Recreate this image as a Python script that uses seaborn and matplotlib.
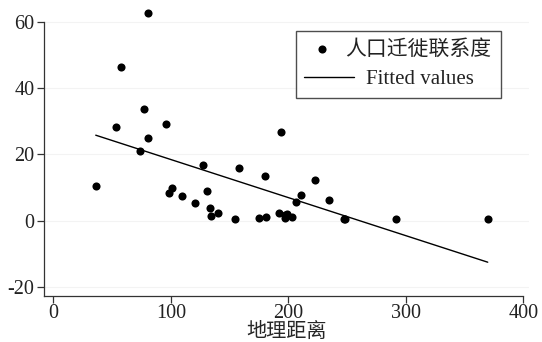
import numpy as np
import pandas as pd
import matplotlib
matplotlib.use("Agg")
import matplotlib.pyplot as plt
import seaborn as sns

# Data
distance = [36.1, 53.1, 57.9, 80.9, 77.5, 80.3, 73.8, 95.7, 98.7, 101.0,
            109.5, 120.3, 127.4, 130.5, 133.4, 134.0, 140.2, 154.6, 158.3, 175.3,
            180.7, 180.4, 191.8, 193.8, 197.2, 198.9, 202.9, 197.5, 206.6, 210.6,
            222.8, 234.6, 247.2, 248.2, 291.9, 369.7]
migration = [10.4, 28.4, 46.5, 62.7, 33.8, 25.0, 21.0, 29.3, 8.4, 9.8,
             7.5, 5.3, 16.9, 9.1, 3.7, 1.4, 2.2, 0.5, 16.0, 0.8,
             1.1, 13.6, 2.2, 26.7, 1.7, 1.9, 1.1, 0.7, 5.6, 7.7,
             12.4, 6.3, 0.6, 0.6, 0.6, 0.6]
fit_x = [36.1, 369.7]
fit_y = [25.8, -12.5]
xticks = [0, 100, 200, 300, 400]
yticks = [-20, 0, 20, 40, 60]
xlabel = "地理距离"
legend_points = "人口迁徙联系度"
legend_line = "Fitted values"

df = pd.DataFrame({"x": distance, "y": migration})
fit_df = pd.DataFrame({"x": fit_x, "y": fit_y})

sns.set_theme(style="white")
plt.rcParams["font.family"] = ["Liberation Serif", "Noto Sans CJK SC"]

fig = plt.figure(figsize=(5.42, 3.42), dpi=100)
ax = fig.add_axes([0.0817, 0.1354, 0.8947, 0.8494])

for yv in yticks:
    ax.axhline(yv, color="#f3f3f3", lw=0.8, zorder=0)

sns.scatterplot(data=df, x="x", y="y", ax=ax, color="black", s=34,
                edgecolor="black", linewidth=0, label=legend_points, zorder=3)
sns.lineplot(data=fit_df, x="x", y="y", ax=ax, color="black", lw=1.0,
             label=legend_line, zorder=2)

ax.set_xlim(-7.7, 405)
ax.set_ylim(-22.6, 65)
ax.set_xticks(xticks)
ax.set_yticks(yticks)
ax.set_xticklabels([str(v) for v in xticks])
ax.set_yticklabels([str(v) for v in yticks])
ax.set_xlabel(xlabel, fontsize=14.5, labelpad=-0.5)
ax.set_ylabel("")

for s in ["top", "right"]:
    ax.spines[s].set_visible(False)
for s in ["left", "bottom"]:
    ax.spines[s].set_color("#333333")
    ax.spines[s].set_linewidth(0.9)
ax.spines["left"].set_bounds(-22.6, 60)
ax.spines["bottom"].set_bounds(-7.7, 400)

ax.tick_params(axis="both", direction="out", length=5, width=0.9,
               color="#333333", labelsize=14.5, labelcolor="#222222", pad=2,
               left=True, bottom=True)
ax.tick_params(axis="x", pad=1.2)

leg = ax.legend(loc="upper right", bbox_to_anchor=(0.941, 0.912),
                borderaxespad=0, fontsize=15, frameon=True, fancybox=False,
                edgecolor="#222222", handlelength=1.65, handletextpad=0.3,
                labelspacing=0.5, borderpad=0.43)
leg.get_frame().set_linewidth(1.0)
for t in leg.get_texts():
    t.set_color("#222222")
# Stata-style key: line key is longer and its label starts further right
pt2px = fig.dpi / 72.0
for ln in leg.get_lines():
    xd = np.asarray(ln.get_xdata(), dtype=float)
    if len(xd) >= 2 and ln.get_linestyle() not in ("None", "none", ""):
        ln.set_xdata(np.linspace(xd.min() - 1.0 / pt2px,
                                 xd.max() + 14.5 / pt2px, len(xd)))
leg.get_texts()[1].set_x(20)

fig.savefig("out.png", dpi=100)
